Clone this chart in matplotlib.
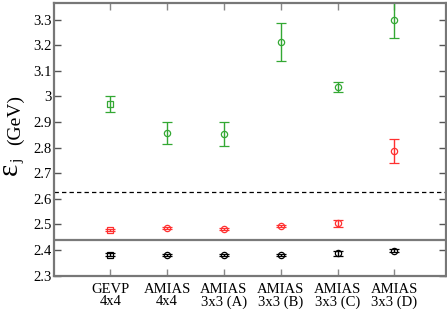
import matplotlib
matplotlib.use("Agg")
import matplotlib.pyplot as plt
import numpy as np

categories = ["GEVP\n4x4", "AMIAS\n4x4", "AMIAS\n3x3 (A)", "AMIAS\n3x3 (B)", "AMIAS\n3x3 (C)", "AMIAS\n3x3 (D)"]
black_vals = [2.382, 2.381, 2.380, 2.382, 2.388, 2.397]
black_errs = [0.005, 0.004, 0.004, 0.004, 0.010, 0.006]
red_vals = [2.479, 2.486, 2.484, 2.494, 2.504, 2.786]
red_errs = [0.005, 0.004, 0.004, 0.004, 0.014, 0.047]
green_vals = [2.970, 2.856, 2.855, 3.212, 3.038, 3.298]
green_errs = [0.032, 0.043, 0.047, 0.074, 0.019, 0.070]
solid_line = 2.439
dashed_line = 2.627

plt.rcParams['font.family'] = ['Liberation Serif', 'DejaVu Serif']
plt.rcParams['mathtext.fontset'] = 'custom'
plt.rcParams['mathtext.rm'] = 'Liberation Serif'
plt.rcParams['mathtext.it'] = 'Liberation Serif:italic'

W, H = 447, 309
fig = plt.figure(figsize=(W/100, H/100), dpi=100)
ax = fig.add_axes([53.5/W, 1 - 275.7/H, (445.5-53.5)/W, (275.7-2.5)/H])

x = np.arange(1, len(categories) + 1)
series = [(black_vals, black_errs, 'black'), (red_vals, red_errs, '#ff3030'), (green_vals, green_errs, '#33a833')]
for vals, errs, col in series:
    for i, (xi, v, e) in enumerate(zip(x, vals, errs)):
        m = 's' if i == 0 else 'o'
        ax.errorbar([xi], [v], yerr=[e], fmt=m, mfc='none', mec=col, ecolor=col,
                    ms=4.5, mew=0.9, elinewidth=1.0, capsize=3.5, capthick=1.0)

ax.axhline(solid_line, color='#7a7a7a', lw=1.6)
ax.axhline(dashed_line, color='black', lw=0.9, ls=(0, (3.5, 2.5)))

yt = np.arange(2.3, 3.31, 0.1)
ax.set_xlim(0, 6.9)
ax.set_ylim(2.3, 3.367)
ax.set_yticks(yt)
ax.set_yticklabels(["3" if abs(t - 3.0) < 1e-9 else f"{t:.1f}" for t in yt])
ax.set_xticks(x)
ax.set_xticklabels(categories, linespacing=0.95)
ax.tick_params(axis='both', direction='in', length=5, width=1, color='#555555', labelsize=10.5)
ax.tick_params(axis='y', right=True, pad=1)
ax.tick_params(axis='x', top=True, pad=5, color='#888888')
for s in ax.spines.values():
    s.set_color('#777777')
    s.set_linewidth(1.6)

kw = dict(rotation=90, rotation_mode='anchor', ha='center', va='baseline')
fig.text(18/W, 1 - 170/H, r"$\mathrm{ε}$", fontsize=21, **kw)
fig.text(21/W, 1 - 161/H, "j", fontsize=11, **kw)
fig.text(20.5/W, 1 - 120/H, "(GeV)", fontsize=14, **kw)
fig.savefig("out.png", dpi=100)
